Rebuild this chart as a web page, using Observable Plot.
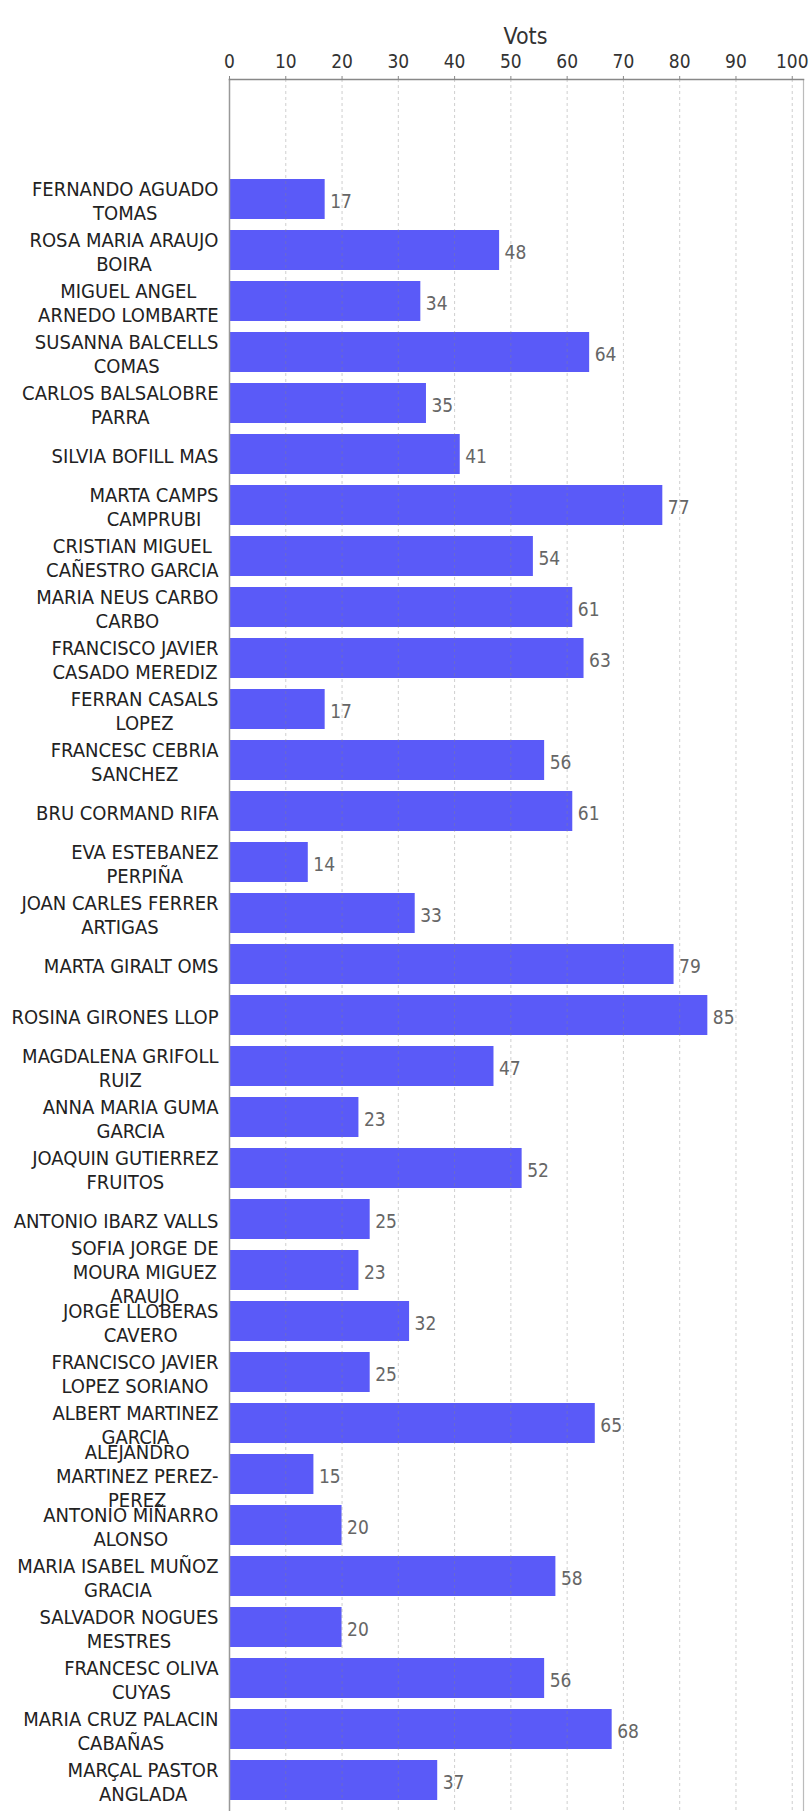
<!DOCTYPE html>
<html>
<head>
<meta charset="utf-8">
<script src="https://cdn.jsdelivr.net/npm/d3@7"></script>
<script src="https://cdn.jsdelivr.net/npm/@observablehq/plot@0.6"></script>
<style>
  html, body { margin: 0; padding: 0; background: #fff; }
  #chart svg { font-family: "DejaVu Sans Condensed", "DejaVu Sans", sans-serif; font-stretch: condensed; background: #fff; display: block; }
</style>
</head>
<body>
<div id="chart"></div>
<script>
const names = [
  "FERNANDO AGUADO\nTOMAS",
  "ROSA MARIA ARAUJO\nBOIRA",
  "MIGUEL ANGEL\nARNEDO LOMBARTE",
  "SUSANNA BALCELLS\nCOMAS",
  "CARLOS BALSALOBRE\nPARRA",
  "SILVIA BOFILL MAS",
  "MARTA CAMPS\nCAMPRUBI",
  "CRISTIAN MIGUEL\nCAÑESTRO GARCIA",
  "MARIA NEUS CARBO\nCARBO",
  "FRANCISCO JAVIER\nCASADO MEREDIZ",
  "FERRAN CASALS\nLOPEZ",
  "FRANCESC CEBRIA\nSANCHEZ",
  "BRU CORMAND RIFA",
  "EVA ESTEBANEZ\nPERPIÑA",
  "JOAN CARLES FERRER\nARTIGAS",
  "MARTA GIRALT OMS",
  "ROSINA GIRONES LLOP",
  "MAGDALENA GRIFOLL\nRUIZ",
  "ANNA MARIA GUMA\nGARCIA",
  "JOAQUIN GUTIERREZ\nFRUITOS",
  "ANTONIO IBARZ VALLS",
  "SOFIA JORGE DE\nMOURA MIGUEZ\nARAUJO",
  "JORGE LLOBERAS\nCAVERO",
  "FRANCISCO JAVIER\nLOPEZ SORIANO",
  "ALBERT MARTINEZ\nGARCIA",
  "ALEJANDRO\nMARTINEZ PEREZ-\nPEREZ",
  "ANTONIO MIÑARRO\nALONSO",
  "MARIA ISABEL MUÑOZ\nGRACIA",
  "SALVADOR NOGUES\nMESTRES",
  "FRANCESC OLIVA\nCUYAS",
  "MARIA CRUZ PALACIN\nCABAÑAS",
  "MARÇAL PASTOR\nANGLADA"
];
const votes = [17, 48, 34, 64, 35, 41, 77, 54, 61, 63, 17, 56, 61, 14, 33, 79, 85, 47, 23, 52, 25, 23, 32, 25, 65, 15, 20, 58, 20, 56, 68, 37];
const xTicks = [0, 10, 20, 30, 40, 50, 60, 70, 80, 90, 100];
const axisTitle = "Vots";

const rows = names.map((name, i) => ({name, value: votes[i]}));

const FONT = '"DejaVu Sans Condensed", "DejaVu Sans", sans-serif';
const nameSize = 20;
const canvas = document.createElement("canvas");
const ctx = canvas.getContext("2d");
ctx.font = `${nameSize}px "DejaVu Sans Condensed", "DejaVu Sans"`;
const blockWidth = (s) => Math.max(...s.split("\n").map(l => ctx.measureText(l).width));

const labelMarks = rows.map(r => Plot.text([r], {
  y: "name",
  text: "name",
  frameAnchor: "left",
  textAnchor: "middle",
  dx: -(11 + blockWidth(r.name) / 2),
  dy: 1,
  lineHeight: 1.18,
  fontSize: nameSize,
  fill: "#222"
}));

const chart = Plot.plot({
  width: 810,
  height: 1815,
  marginTop: 79,
  marginLeft: 229,
  marginRight: 7,
  marginBottom: 0,
  style: {fontFamily: FONT, background: "#fff"},
  x: {domain: [0, 102], axis: null},
  y: {domain: names, axis: null, insetTop: 84, paddingInner: 0.22, paddingOuter: 0.11},
  marks: [
    Plot.barX(rows, {x: "value", y: "name", fill: "#5a5af8"}),
    Plot.gridX(xTicks.slice(1), {stroke: "#888", strokeOpacity: 0.4, strokeDasharray: "3,3", strokeWidth: 1}),
    Plot.frame({anchor: "left", stroke: "#999", strokeWidth: 1.5}),
    Plot.frame({anchor: "right", stroke: "#bbb", strokeWidth: 1.2}),
    Plot.frame({anchor: "top", stroke: "#888", strokeWidth: 1.5}),
    Plot.axisX(xTicks, {anchor: "top", tickSize: 4, tickPadding: 8, fontSize: 19, stroke: "#888", fill: "#333", label: null}),
    Plot.text([axisTitle], {text: d => d, frameAnchor: "top", dx: 9, dy: -52, fontSize: 23, fill: "#333"}),
    Plot.text(rows, {x: "value", y: "name", text: d => String(d.value), textAnchor: "start", dx: 5, dy: 2, fontSize: 19, fill: "#666"}),
    ...labelMarks
  ]
});
document.getElementById("chart").appendChild(chart);
</script>
</body>
</html>
